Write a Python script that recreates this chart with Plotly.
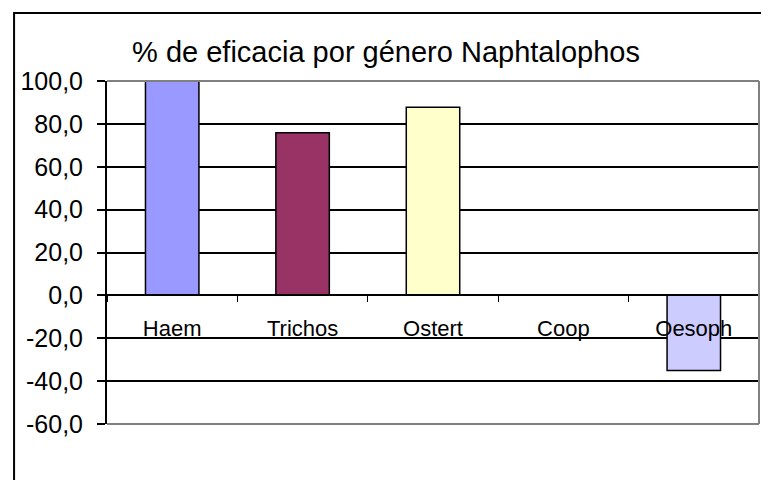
import plotly.graph_objects as go

categories = ["Haem", "Trichos", "Ostert", "Coop", "Oesoph"]
values = [100.0, 75.9, 87.8, 0.0, -35.0]
colors = ["#9999FF", "#993366", "#FFFFCC", "#660066", "#CCCCFF"]
ytick_vals = [-60, -40, -20, 0, 20, 40, 60, 80, 100]
ytick_text = ["-60,0", "-40,0", "-20,0", "0,0", "20,0", "40,0", "60,0", "80,0", "100,0"]
title = "% de eficacia por género Naphtalophos"

# page body has an 8px margin, so positions below are shifted by it
OFF = 8
W, H = 769, 480
L, R, T, B = 103 - OFF, 769 - (759 - OFF), 81 - OFF, 480 - (424 - OFF)
pw, ph = W - L - R, H - T - B

font = "Arial, Liberation Sans, sans-serif"

fig = go.Figure()
fig.add_trace(
    go.Bar(
        x=categories,
        y=values,
        marker={"color": colors, "line": {"color": "black", "width": 1.5}},
        showlegend=False,
    )
)

fig.update_layout(
    width=W,
    height=H,
    margin={"l": L, "r": R, "t": T, "b": B},
    paper_bgcolor="white",
    plot_bgcolor="white",
    bargap=0.59,
    font={"family": font, "color": "black"},
    title={
        "text": title,
        "font": {"size": 29, "family": font, "color": "black"},
        "xref": "container",
        "x": (386 - OFF) / W,
        "xanchor": "center",
        "yref": "container",
        "y": 1 - (52 - OFF) / H,
        "yanchor": "middle",
    },
    xaxis={
        "anchor": "free",
        "position": 60 / 160,
        "showline": True,
        "linecolor": "black",
        "linewidth": 1.5,
        "ticks": "outside",
        "tickson": "boundaries",
        "ticklen": 6,
        "tickwidth": 1,
        "tickcolor": "black",
        "showgrid": False,
        "tickfont": {"size": 22},
        "ticklabelstandoff": 13,
    },
    yaxis={
        "range": [-60, 100],
        "tickvals": ytick_vals,
        "ticktext": ytick_text,
        "showline": True,
        "linecolor": "black",
        "linewidth": 2,
        "ticks": "outside",
        "ticklen": 8,
        "tickwidth": 2,
        "tickcolor": "black",
        "showgrid": True,
        "gridcolor": "black",
        "gridwidth": 1.5,
        "zeroline": False,
        "tickfont": {"size": 25},
        "ticklabelstandoff": 9,
    },
    shapes=[
        # plot area border (grey) on top, right and bottom
        dict(type="line", xref="paper", yref="paper", x0=0, x1=1, y0=1, y1=1,
             line={"color": "#808080", "width": 2}),
        dict(type="line", xref="paper", yref="paper", x0=1, x1=1, y0=0, y1=1,
             line={"color": "#808080", "width": 2}),
        dict(type="line", xref="paper", yref="paper", x0=0, x1=1, y0=0, y1=0,
             line={"color": "#808080", "width": 2}),
        # outer chart border, cropped by the picture edge
        dict(type="rect", xref="paper", yref="paper",
             x0=(9.5 - 103) / pw, x1=1 + 40 / pw,
             y0=-(B + 40) / ph, y1=1 + (81 - 13) / ph,
             line={"color": "black", "width": 2}),
    ],
)

fig.write_html("out.html")
